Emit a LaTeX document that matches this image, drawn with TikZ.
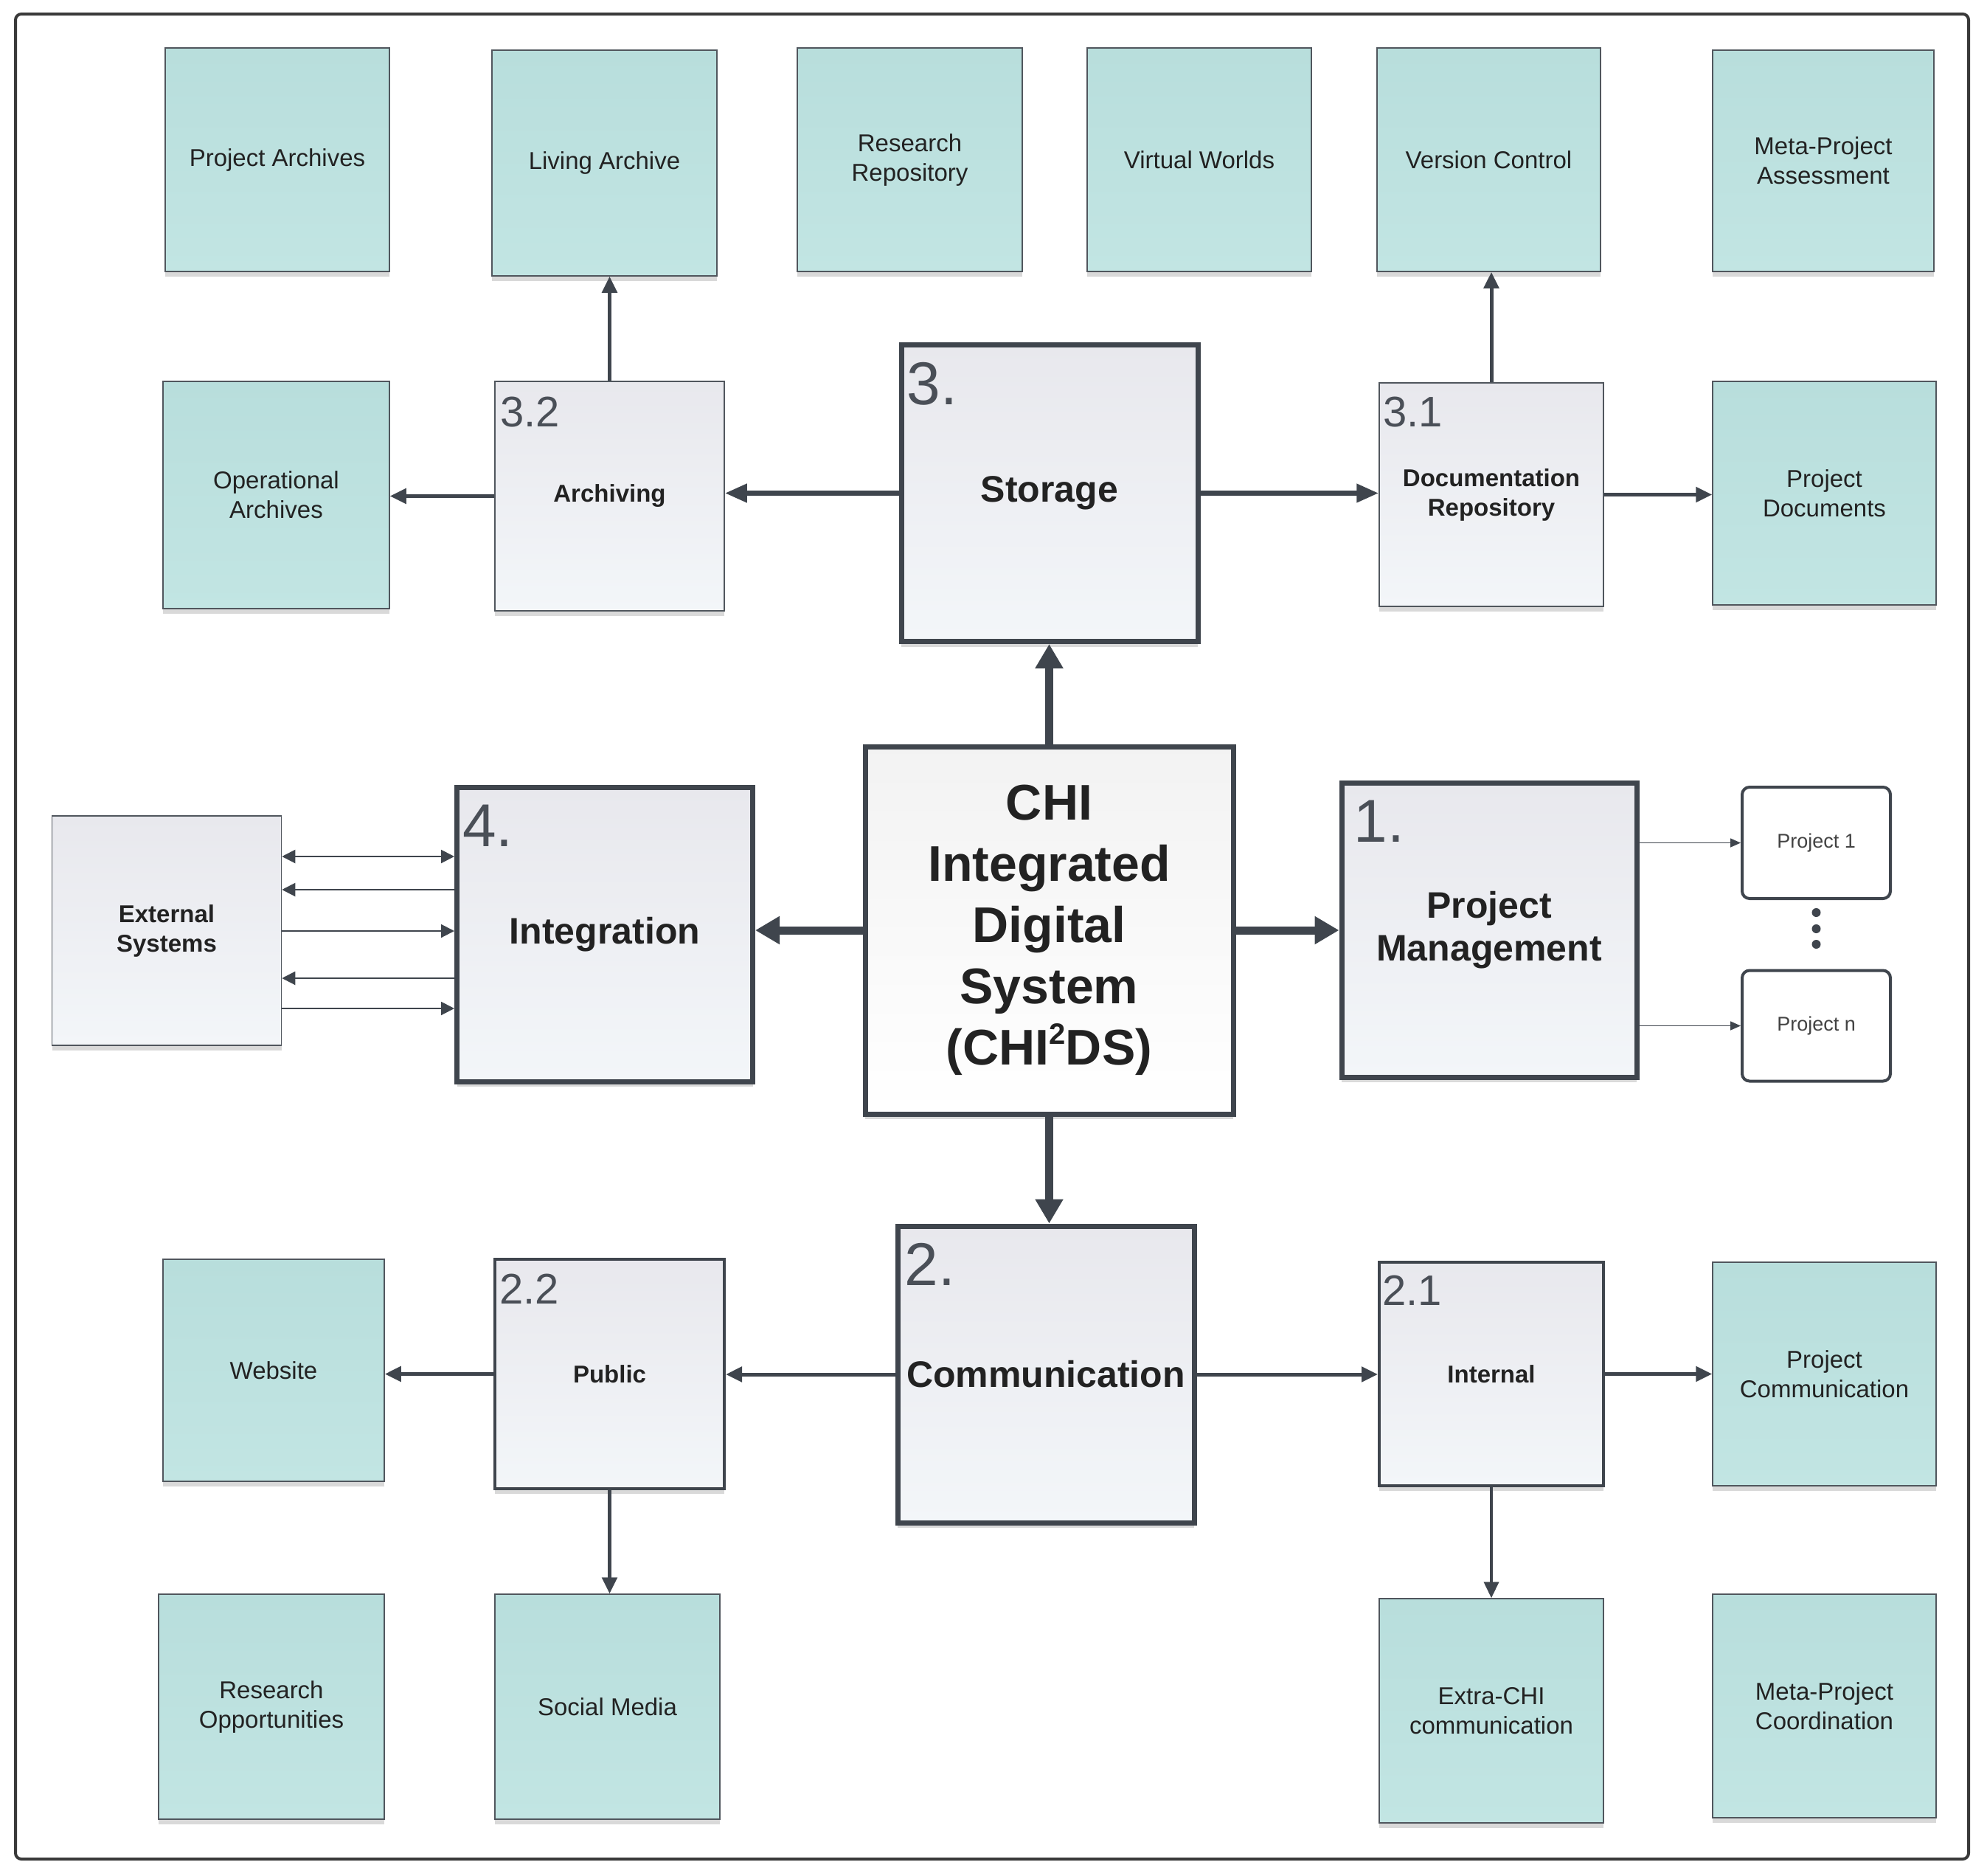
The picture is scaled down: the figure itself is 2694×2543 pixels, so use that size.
\documentclass[tikz,border=0pt]{standalone}
\usepackage{fontspec}
\setmainfont{Liberation Sans}
\usetikzlibrary{arrows.meta,shadows,calc}
\definecolor{tealtop}{HTML}{B8DEDC}
\definecolor{tealbot}{HTML}{C2E5E3}
\definecolor{graytop}{HTML}{E8E8ED}
\definecolor{graybot}{HTML}{F3F6F9}
\definecolor{linec}{HTML}{3F454D}
\definecolor{thinb}{HTML}{50565D}
\definecolor{txtc}{HTML}{222222}
\definecolor{numc}{HTML}{4A4F57}
\definecolor{framec}{HTML}{3A3A3A}
\tikzset{
  shad/.style={drop shadow={shadow xshift=0pt, shadow yshift=-7pt, opacity=0.15, fill=black}},
  tealbox/.style={draw=thinb, line width=1.5pt, top color=tealtop, bottom color=tealbot, shad,
    align=center, text=txtc, inner sep=2pt, font=\fontsize{33}{40}\selectfont},
  subbox/.style={draw=thinb, line width=1.5pt, top color=graytop, bottom color=graybot, shad,
    align=center, text=txtc, inner sep=2pt, font=\bfseries\fontsize{33}{40}\selectfont},
  subboxb/.style={subbox, draw=linec, line width=4pt},
  mainbox/.style={draw=linec, line width=7pt, top color=graytop, bottom color=graybot, shad,
    align=center, text=txtc, inner sep=2pt, font=\bfseries\fontsize{50}{58}\selectfont},
  chibox/.style={draw=linec, line width=7pt, top color=white!95!black, bottom color=white, shad,
    align=center, text=txtc, inner sep=2pt, font=\bfseries\fontsize{68}{83}\selectfont},
  projbox/.style={draw=linec, line width=4pt, fill=white, rounded corners=10pt,
    align=center, text=txtc!85!white, inner sep=2pt, font=\fontsize{27}{32}\selectfont},
  numlab/.style={anchor=north west, inner sep=0pt, text=numc, font=\fontsize{58}{58}\selectfont},
  bignum/.style={anchor=north west, inner sep=0pt, text=numc, font=\fontsize{82}{82}\selectfont},
  bigarr/.style={draw=linec, line width=11pt, -{Triangle[length=33pt,width=36pt]}},
  medarr/.style={draw=linec, line width=7pt, -{Triangle[length=30pt,width=24pt]}},
  subarr/.style={draw=linec, line width=5pt, -{Triangle[length=22pt,width=20pt]}},
  thinarr/.style={draw=linec, line width=2pt},
  tinyarr/.style={draw=linec, line width=1.5pt, -{Triangle[length=14pt,width=12pt]}},
}
\begin{document}
\begin{tikzpicture}[x=1pt,y=-1pt]
\useasboundingbox (0,0) rectangle (2694,2543);
\draw[framec, line width=4pt, rounded corners=8pt] (21,19) rectangle (2669,2520);

% top row
\node[tealbox, minimum width=304pt, minimum height=303pt] (pa)  at (376,216.5)   {Project Archives};
\node[tealbox, minimum width=305pt, minimum height=306pt] (la)  at (819.5,221)   {Living Archive};
\node[tealbox, minimum width=305pt, minimum height=303pt] (rr)  at (1233.5,216.5){Research\\Repository};
\node[tealbox, minimum width=304pt, minimum height=303pt] (vw)  at (1626,216.5)  {Virtual Worlds};
\node[tealbox, minimum width=303pt, minimum height=303pt] (vc)  at (2018.5,216.5){Version Control};
\node[tealbox, minimum width=300pt, minimum height=300pt] (mpa) at (2472,218)    {Meta-Project\\Assessment};

% second row
\node[tealbox, minimum width=307pt, minimum height=308pt] (oa)  at (374.5,671)   {Operational\\Archives};
\node[subbox,  minimum width=311pt, minimum height=311pt] (arch) at (826.5,672.5) {Archiving};
\node[mainbox, minimum width=402pt, minimum height=402pt] (sto) at (1423,668.5)  {Storage};
\node[subbox,  minimum width=304pt, minimum height=303pt] (doc) at (2022,670.5)  {Documentation\\Repository};
\node[tealbox, minimum width=303pt, minimum height=303pt] (pd)  at (2473.5,668.5){Project\\Documents};

% middle row
\node[subbox,  minimum width=311pt, minimum height=311pt] (ext) at (226,1261.5) {External\\Systems};
\node[mainbox, minimum width=401pt, minimum height=399pt] (integ) at (820,1266.5) {Integration};
\node[chibox,  minimum width=499pt, minimum height=498pt] (chi) at (1422.5,1261) {CHI\\Integrated\\Digital\\System\\(CHI\raisebox{0.42em}{\fontsize{40}{40}\selectfont 2}DS)};
\node[mainbox, minimum width=400pt, minimum height=399pt] (pm)  at (2019,1260.5) {Project\\Management};
\node[projbox, minimum width=201pt, minimum height=151pt] (p1)  at (2462.5,1142.5) {Project 1};
\node[projbox, minimum width=201pt, minimum height=150pt] (pn)  at (2462.5,1390.5) {Project n};

% bottom rows
\node[tealbox, minimum width=300pt, minimum height=301pt] (web) at (371,1857.5)  {Website};
\node[subboxb, minimum width=311pt, minimum height=311pt] (pub) at (826.5,1862.5){Public};
\node[mainbox, minimum width=402pt, minimum height=402pt] (comm) at (1418,1863)  {Communication};
\node[subboxb, minimum width=304pt, minimum height=303pt] (int) at (2022,1862.5) {Internal};
\node[tealbox, minimum width=303pt, minimum height=303pt] (pc)  at (2473.5,1862.5){Project\\Communication};
\node[tealbox, minimum width=306pt, minimum height=305pt] (ro)  at (368,2313.5)  {Research\\Opportunities};
\node[tealbox, minimum width=305pt, minimum height=305pt] (sm)  at (823.5,2313.5){Social Media};
\node[tealbox, minimum width=304pt, minimum height=304pt] (ec)  at (2022,2319)   {Extra-CHI\\communication};
\node[tealbox, minimum width=303pt, minimum height=303pt] (mpc) at (2473.5,2312.5){Meta-Project\\Coordination};

% number labels
\node[bignum] (n3)  at ([xshift=11pt,yshift=-27pt]sto.north west)   {3.};
\node[bignum] (n4)  at ([xshift=11pt,yshift=-27pt]integ.north west) {4.};
\node[bignum] (n1)  at ([xshift=20pt,yshift=-27pt]pm.north west)    {1.};
\node[bignum] (n2)  at ([xshift=13pt,yshift=-27pt]comm.north west)  {2.};
\node[numlab] (n32) at ([xshift=8pt,yshift=-22pt]arch.north west)  {3.2};
\node[numlab] (n31) at ([xshift=6pt,yshift=-20pt]doc.north west)   {3.1};
\node[numlab] (n22) at ([xshift=8pt,yshift=-22pt]pub.north west)   {2.2};
\node[numlab] (n21) at ([xshift=6pt,yshift=-20pt]int.north west)   {2.1};

% main arrows from CHI
\draw[bigarr] (chi.north) -- (chi.north |- sto.south);
\draw[bigarr] (chi.south) -- (chi.south |- comm.north);
\draw[bigarr] (chi.west) -- (chi.west -| integ.east);
\draw[bigarr] (chi.east) -- (chi.east -| pm.west);

% storage branch
\draw[medarr] (sto.west) -- (sto.west -| arch.east);
\draw[medarr] (sto.east) -- (sto.east -| doc.west);
\draw[subarr] (arch.west) -- (arch.west -| oa.east);
\draw[subarr] (arch.north) -- (arch.north |- la.south);
\draw[subarr] (doc.north) -- (doc.north |- vc.south);
\draw[subarr] (doc.east) -- (doc.east -| pd.west);

% communication branch
\draw[subarr] (comm.west) -- (comm.west -| pub.east);
\draw[subarr] (pub.west) -- (pub.west -| web.east);
\draw[subarr] (pub.south) -- (pub.south |- sm.north);
\draw[subarr] (comm.east) -- (comm.east -| int.west);
\draw[subarr] (int.east) -- (int.east -| pc.west);
\draw[subarr, line width=4pt] (int.south) -- (int.south |- ec.north);

% project management
\draw[tinyarr] (pm.east |- p1.west) -- (p1.west);
\draw[tinyarr] (pm.east |- pn.west) -- (pn.west);
\fill[linec] (p1.south |- 0,1237) circle (6pt);
\fill[linec] (p1.south |- 0,1259) circle (6pt);
\fill[linec] (p1.south |- 0,1280) circle (6pt);

% external systems
\draw[thinarr, {Triangle[length=18pt,width=18pt]}-{Triangle[length=18pt,width=18pt]}] (ext.east |- 0,1161) -- (integ.west |- 0,1161);
\draw[thinarr, {Triangle[length=18pt,width=18pt]}-] (ext.east |- 0,1206) -- (integ.west |- 0,1206);
\draw[thinarr, -{Triangle[length=18pt,width=18pt]}] (ext.east |- 0,1262) -- (integ.west |- 0,1262);
\draw[thinarr, {Triangle[length=18pt,width=18pt]}-] (ext.east |- 0,1326) -- (integ.west |- 0,1326);
\draw[thinarr, -{Triangle[length=18pt,width=18pt]}] (ext.east |- 0,1367) -- (integ.west |- 0,1367);
\end{tikzpicture}
\end{document}
